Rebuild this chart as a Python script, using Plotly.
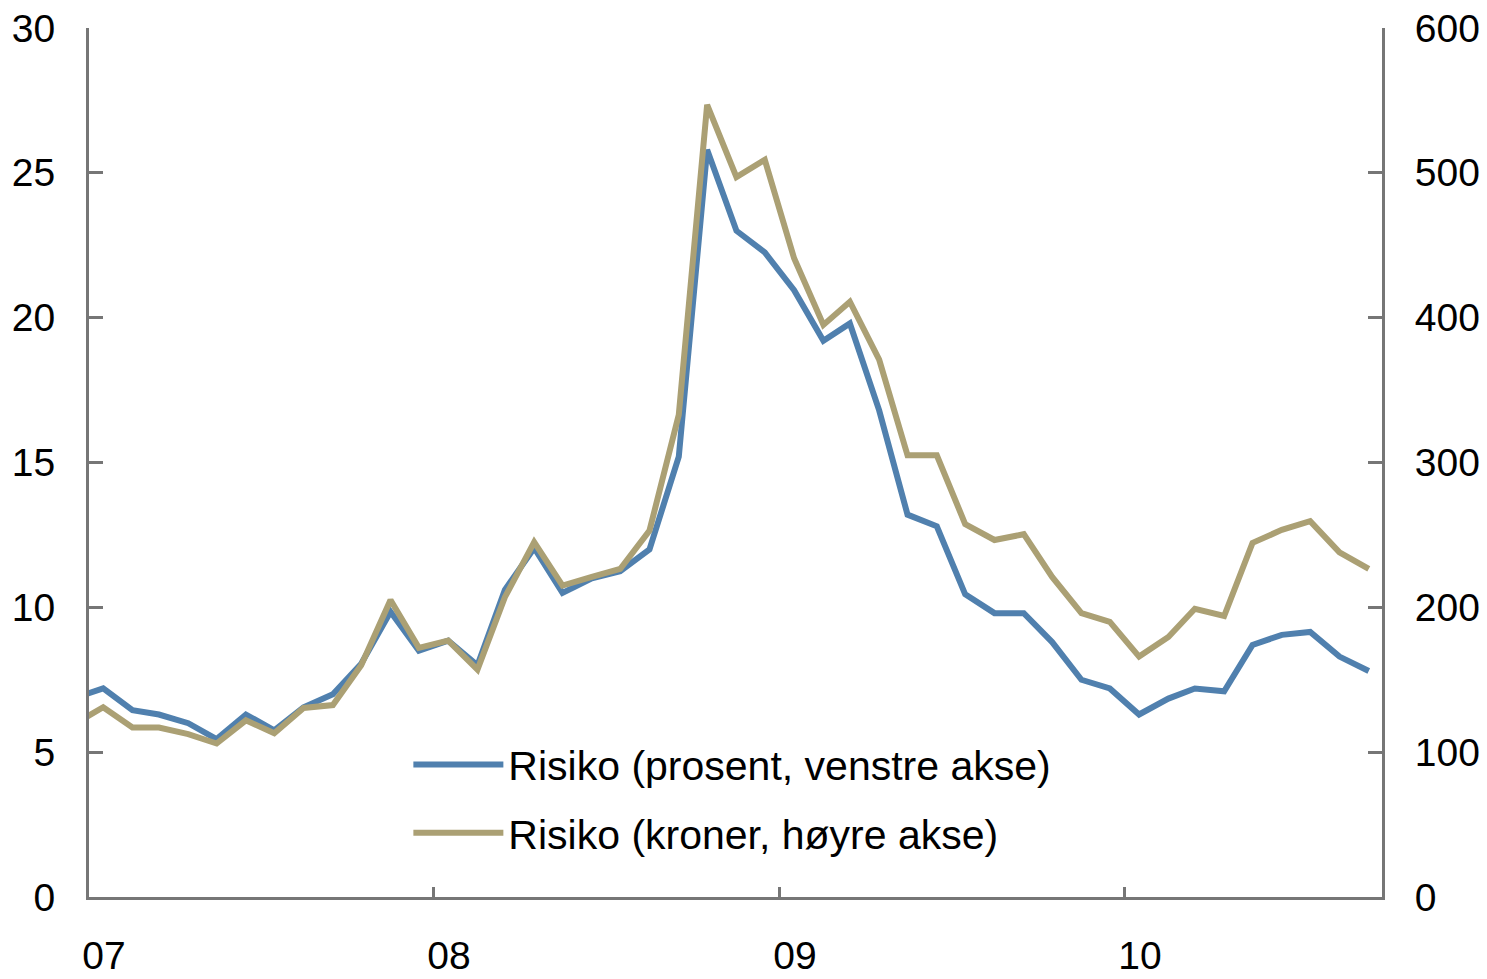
import plotly.graph_objects as go

months = ["2006-12-15"] + [f"{y}-{m:02d}-16" for y in (2007, 2008, 2009, 2010) for m in range(1, 13)][:45]

risk_pct = [6.85, 7.2, 6.45, 6.3, 6.0, 5.45, 6.3, 5.75, 6.55, 7.0, 8.05, 9.85,
            8.5, 8.85, 8.0, 10.6, 12.05, 10.5, 11.0, 11.25, 12.0, 15.2, 25.8, 23.0,
            22.25, 20.95, 19.2, 19.8, 16.8, 13.2, 12.8, 10.45, 9.8, 9.8, 8.8, 7.5,
            7.2, 6.3, 6.85, 7.2, 7.1, 8.7, 9.05, 9.15, 8.3, 7.8]

risk_nok = [119, 131, 117, 117, 112.5, 106, 122, 113, 130.5, 132.5, 160, 205,
            172, 177, 157, 207, 245, 215, 221, 226.5, 253, 333, 547, 497,
            509, 441, 395, 411, 371, 305, 305, 257.5, 246.5, 250.5, 221, 196,
            190, 166, 179.5, 199, 194, 244.5, 253.5, 259.5, 238, 226.5]

name_pct = "Risiko (prosent, venstre akse)"
name_nok = "Risiko (kroner, høyre akse)"
tick_dates = ["2007-01-01", "2008-01-01", "2009-01-01", "2010-01-01"]
tick_text = ["07", "08", "09", "10"]

BLUE = "#5080AE"
GOLD = "#ABA074"
AXIS = "#767676"
FONT = "Liberation Sans"

fig = go.Figure()
fig.add_trace(go.Scatter(x=months, y=risk_pct, name=name_pct, mode="lines",
                         line=dict(color=BLUE, width=6), legendgroup="a", yaxis="y"))
fig.add_trace(go.Scatter(x=months, y=risk_nok, name=name_nok, mode="lines",
                         line=dict(color=GOLD, width=6), legendgroup="b", yaxis="y2"))

fig.update_layout(
    template="none",
    width=1471, height=971,
    margin=dict(l=81, r=97, t=20, b=82, autoexpand=False),
    paper_bgcolor="white", plot_bgcolor="white",
    font=dict(family=FONT, size=39, color="black"),
    showlegend=True,
    legend=dict(x=0.247, y=0.113, xanchor="left", yanchor="middle",
                bgcolor="rgba(0,0,0,0)", font=dict(size=41, family=FONT),
                itemwidth=90, tracegroupgap=12, traceorder="grouped"),
    xaxis=dict(range=["2007-01-01", "2010-09-30"], type="date",
               tickvals=tick_dates, ticktext=tick_text, automargin=False,
               ticks="inside", ticklen=10, tickwidth=2.5, tickcolor=AXIS,
               showline=True, linecolor=AXIS, linewidth=3,
               showgrid=False, zeroline=False, ticklabelshift=15,
               ticklabelstandoff=22, ticklabeloverflow="allow"),
    yaxis=dict(range=[0, 30], tickvals=[0, 5, 10, 15, 20, 25, 30], automargin=False,
               ticks="inside", ticklen=14, tickwidth=2.5, tickcolor=AXIS,
               showline=True, linecolor=AXIS, linewidth=3,
               showgrid=False, zeroline=False, ticklabelstandoff=23,
               ticklabeloverflow="allow"),
    yaxis2=dict(range=[0, 600], tickvals=[0, 100, 200, 300, 400, 500, 600],
                overlaying="y", side="right", automargin=False,
                ticks="inside", ticklen=14, tickwidth=2.5, tickcolor=AXIS,
                showline=True, linecolor=AXIS, linewidth=3,
                showgrid=False, zeroline=False, ticklabelstandoff=22,
                ticklabeloverflow="allow"),
)

fig.write_html("out.html")
